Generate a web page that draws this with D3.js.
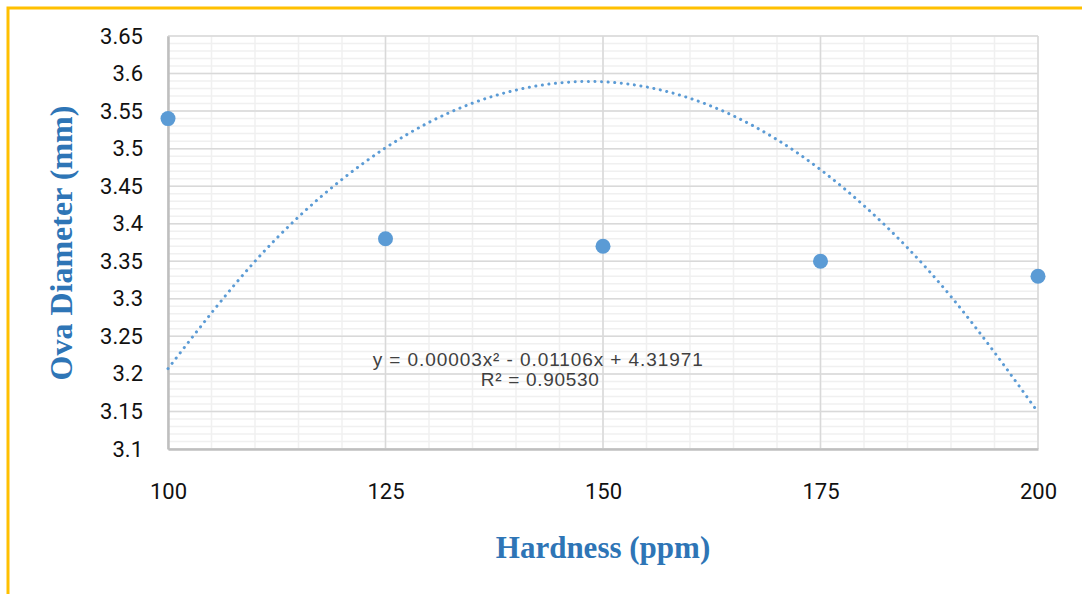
<!DOCTYPE html>
<html>
<head>
<meta charset="utf-8">
<script src="https://cdn.jsdelivr.net/npm/d3@7"></script>
<style>
  body { margin: 0; background: #fff; }
  svg { display: block; }
</style>
</head>
<body>
<div id="chart"></div>
<script>
// measured points
var hardness = [100, 125, 150, 175, 200];
var diameter = [3.54, 3.38, 3.37, 3.35, 3.33];

// polynomial trendline
var trendX = [100, 110, 120, 130, 140, 150, 160, 170, 180, 190, 200];
var trendY = [3.207, 3.350, 3.459, 3.535, 3.578, 3.589, 3.567, 3.512, 3.424, 3.303, 3.149];

var xTicks = [100, 125, 150, 175, 200];
var yTicks = [3.1, 3.15, 3.2, 3.25, 3.3, 3.35, 3.4, 3.45, 3.5, 3.55, 3.6, 3.65];
var eqLine1 = "y = 0.00003x² - 0.01106x + 4.31971";
var eqLine2 = "R² = 0.90530";

var W = 1082, H = 594;
var margin = {top: 36, right: 44, bottom: 145, left: 168},
    width = W - margin.left - margin.right,
    height = H - margin.top - margin.bottom;

var root = d3.select("#chart")
  .append("svg")
    .attr("width", W)
    .attr("height", H);

// yellow frame
root.append("rect")
  .attr("x", 8).attr("y", 8)
  .attr("width", 1200).attr("height", 800)
  .attr("fill", "none")
  .attr("stroke", "#ffc000")
  .attr("stroke-width", 3);

var svg = root.append("g")
  .attr("transform", "translate(" + margin.left + "," + margin.top + ")");

var x = d3.scaleLinear().domain([100, 200]).range([0, width]);
var y = d3.scaleLinear().domain([3.1, 3.65]).range([height, 0]);

// minor grid
var minorX = d3.range(100, 201, 5);
var minorY = d3.range(0, 56).map(function(i) { return 3.1 + i * 0.01; });

svg.append("g").selectAll("line")
  .data(minorY)
  .enter().append("line")
    .attr("x1", 0).attr("x2", width)
    .attr("y1", function(d) { return y(d); })
    .attr("y2", function(d) { return y(d); })
    .attr("stroke", "#f0f0f0")
    .attr("stroke-width", 1.5);

svg.append("g").selectAll("line")
  .data(minorX)
  .enter().append("line")
    .attr("x1", function(d) { return x(d); })
    .attr("x2", function(d) { return x(d); })
    .attr("y1", 0).attr("y2", height)
    .attr("stroke", "#f0f0f0")
    .attr("stroke-width", 1.5);

// major grid
svg.append("g").selectAll("line")
  .data(yTicks)
  .enter().append("line")
    .attr("x1", 0).attr("x2", width)
    .attr("y1", function(d) { return y(d); })
    .attr("y2", function(d) { return y(d); })
    .attr("stroke", "#d9d9d9")
    .attr("stroke-width", 1.5);

svg.append("g").selectAll("line")
  .data(xTicks)
  .enter().append("line")
    .attr("x1", function(d) { return x(d); })
    .attr("x2", function(d) { return x(d); })
    .attr("y1", 0).attr("y2", height)
    .attr("stroke", "#d9d9d9")
    .attr("stroke-width", 1.5);

// axes
var xAxis = svg.append("g")
  .attr("transform", "translate(0," + height + ")")
  .call(d3.axisBottom(x).tickValues(xTicks).tickSize(0).tickPadding(34).tickFormat(d3.format("d")));
xAxis.select(".domain").attr("stroke", "#bfbfbf").attr("stroke-width", 2.5);

var yAxis = svg.append("g")
  .call(d3.axisLeft(y).tickValues(yTicks).tickSize(0).tickPadding(25).tickFormat(function(d) { return +d.toFixed(2); }));
yAxis.select(".domain").attr("stroke", "#bfbfbf").attr("stroke-width", 2.5);

root.selectAll(".tick text")
  .style("font-family", "Roboto, sans-serif")
  .style("font-size", "22px")
  .attr("fill", "#111");

// trendline
svg.append("path")
  .datum(trendX.map(function(d, i) { return [d, trendY[i]]; }))
  .attr("d", d3.line()
    .x(function(d) { return x(d[0]); })
    .y(function(d) { return y(d[1]); })
    .curve(d3.curveNatural))
  .attr("fill", "none")
  .attr("stroke", "#5b9bd5")
  .attr("stroke-width", 3)
  .attr("stroke-linecap", "round")
  .attr("stroke-dasharray", "0.1 6.5");

// points
svg.append("g").selectAll("circle")
  .data(hardness)
  .enter().append("circle")
    .attr("cx", function(d) { return x(d); })
    .attr("cy", function(d, i) { return y(diameter[i]); })
    .attr("r", 7.5)
    .attr("fill", "#5b9bd5");

// equation label
var eqX = margin.left + x(142.5);
root.append("text")
  .attr("x", eqX)
  .attr("y", 366)
  .attr("text-anchor", "middle")
  .style("font-family", "'Liberation Sans', Arial, sans-serif")
  .style("font-size", "19px")
  .attr("textLength", 330)
  .attr("fill", "#404040")
  .text(eqLine1);

root.append("text")
  .attr("x", eqX + 2)
  .attr("y", 386)
  .attr("text-anchor", "middle")
  .style("font-family", "'Liberation Sans', Arial, sans-serif")
  .style("font-size", "19px")
  .attr("textLength", 118)
  .attr("fill", "#404040")
  .text(eqLine2);

// axis titles
root.append("text")
  .attr("x", margin.left + width / 2)
  .attr("y", 558)
  .attr("text-anchor", "middle")
  .style("font-family", "'Liberation Serif', 'Times New Roman', serif")
  .style("font-weight", "bold")
  .style("font-size", "31px")
  .attr("fill", "#2e75b6")
  .text("Hardness (ppm)");

root.append("text")
  .attr("transform", "translate(72,243) rotate(-90)")
  .attr("text-anchor", "middle")
  .style("font-family", "'Liberation Serif', 'Times New Roman', serif")
  .style("font-weight", "bold")
  .style("font-size", "32px")
  .attr("fill", "#2e75b6")
  .text("Ova Diameter (mm)");
</script>
</body>
</html>
